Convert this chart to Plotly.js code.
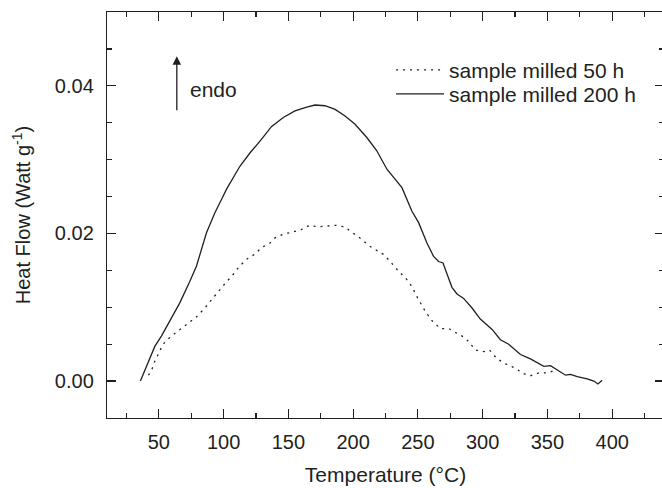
<!DOCTYPE html>
<html>
<head>
<meta charset="utf-8">
<script src="https://cdn.plot.ly/plotly-3.0.1.min.js"></script>
<style>
html, body { margin: 0; padding: 0; overflow: hidden; background: #fff; }
#chart { width: 664px; height: 488px; }
</style>
</head>
<body>
<div id="chart"></div>
<script>
// Sample milled 200 h (solid)
const temp200 = [35.8, 39.1, 43, 46.9, 52, 57.2, 66.2, 73.9, 79.1, 86.8, 93.3, 98.4, 102.3, 112.6, 120.3, 128.1, 137.1, 146.1, 155.1, 164.2, 170.6, 178.3, 186.1, 193.8, 201.5, 210.6, 218.3, 226.1, 232.5, 237.7, 245.4, 250.5, 257, 262.1, 266, 269.4, 272.5, 276.3, 280.2, 285.3, 291.8, 298.2, 307.3, 313.7, 320.1, 329.2, 336.9, 347.2, 352.4, 357.5, 364, 367.8, 373, 380.7, 385.9, 389, 392.3];
const heat200 = [0, 0.00135, 0.0032, 0.0047, 0.0061, 0.0077, 0.0106, 0.0135, 0.0156, 0.0201, 0.0228, 0.0246, 0.026, 0.0291, 0.0309, 0.0325, 0.0345, 0.0357, 0.0366, 0.0371, 0.0374, 0.0373, 0.0368, 0.0359, 0.0348, 0.033, 0.0312, 0.0287, 0.0273, 0.0262, 0.023, 0.0215, 0.0187, 0.0169, 0.0162, 0.016, 0.0145, 0.0127, 0.0118, 0.0112, 0.0099, 0.0084, 0.007, 0.0056, 0.005, 0.0036, 0.003, 0.002, 0.0021, 0.0015, 0.0008, 0.0009, 0.0006, 0.0003, 0, -0.0004, 0.0001];

// Sample milled 50 h (dotted)
const temp50 = [42, 44.3, 46.9, 50, 53.3, 59, 65.7, 72.6, 79.1, 85, 90.7, 95.8, 101.5, 106.7, 112, 117.8, 124.2, 129.4, 135.8, 139.7, 146.1, 153.1, 159.8, 166.2, 173.2, 179.7, 186.9, 193.3, 200.2, 206.7, 212.6, 218, 224, 229.6, 235, 240.8, 245.4, 248.7, 252.3, 256.2, 261.3, 267.5, 274, 280, 286, 290, 294.3, 300.8, 305.3, 311.3, 318.2, 324.6, 331.7, 336.6, 343.3, 350, 356.2];
const heat50 = [0.0008, 0.0014, 0.0027, 0.0038, 0.005, 0.006, 0.0069, 0.0078, 0.0087, 0.0098, 0.011, 0.0122, 0.0133, 0.0143, 0.0155, 0.0165, 0.0172, 0.0181, 0.0187, 0.0194, 0.0199, 0.0202, 0.0205, 0.0211, 0.0209, 0.021, 0.0211, 0.0209, 0.02, 0.0192, 0.0183, 0.0177, 0.0171, 0.016, 0.0149, 0.0139, 0.0128, 0.0116, 0.0104, 0.0093, 0.0081, 0.0071, 0.0071, 0.0065, 0.0059, 0.0052, 0.0042, 0.004, 0.0042, 0.003, 0.0023, 0.0018, 0.001, 0.0007, 0.0011, 0.0011, 0.0015];

const seriesNames = ['sample milled 50 h', 'sample milled 200 h'];
const xTickVals = [50, 100, 150, 200, 250, 300, 350, 400];
const yTickVals = [0, 0.02, 0.04];
const yTickText = ['0.00', '0.02', '0.04'];

const ink = '#231f20';
const fontFam = '"Liberation Sans", Arial, Helvetica, sans-serif';

const traces = [
  {
    x: temp50, y: heat50, name: seriesNames[0], type: 'scatter', mode: 'lines',
    line: { color: ink, width: 1.3, dash: '2px,5px' }, legend: 'legend'
  },
  {
    x: temp200, y: heat200, name: seriesNames[1], type: 'scatter', mode: 'lines',
    line: { color: ink, width: 1.3 }, legend: 'legend2'
  }
];

const axisCommon = {
  showline: true, linecolor: ink, linewidth: 1.2, mirror: 'allticks',
  ticks: 'inside', ticklen: 9, tickwidth: 1.2, tickcolor: ink,
  showgrid: false, zeroline: false,
  tickfont: { family: fontFam, size: 20, color: ink }
};

const legendCommon = {
  xanchor: 'left', yanchor: 'top',
  bgcolor: 'rgba(0,0,0,0)', borderwidth: 0,
  font: { family: fontFam, size: 21, color: ink },
  itemwidth: 48
};

const layout = {
  width: 664, height: 488,
  margin: { l: 107, r: 0, t: 12, b: 70 },
  paper_bgcolor: '#fff', plot_bgcolor: '#fff',
  font: { family: fontFam, color: ink },
  showlegend: true,
  legend: Object.assign({}, legendCommon, { x: 0.51, y: 0.907 }),
  legend2: Object.assign({}, legendCommon, { x: 0.51, y: 0.848 }),
  xaxis: Object.assign({}, axisCommon, {
    range: [10, 440],
    tickmode: 'array', tickvals: xTickVals,
    ticklabelstandoff: 6,
    minor: { ticks: 'inside', ticklen: 5, tickwidth: 1.2, tickcolor: ink, dtick: 25, tick0: 0 },
    title: { text: 'Temperature (°C)', font: { family: fontFam, size: 21, color: ink }, standoff: 15 }
  }),
  yaxis: Object.assign({}, axisCommon, {
    range: [-0.005, 0.05],
    tickmode: 'array', tickvals: yTickVals, ticktext: yTickText,
    ticklabelstandoff: 8,
    minor: { ticks: 'inside', ticklen: 5, tickwidth: 1.2, tickcolor: ink, dtick: 0.005, tick0: 0 },
    title: { text: 'Heat Flow (Watt g<sup>-1</sup>)', font: { family: fontFam, size: 20, color: ink }, standoff: 18 }
  }),
  annotations: [
    {
      x: 63.9, y: 0.044, xref: 'x', yref: 'y',
      ax: 63.9, ay: 0.0365, axref: 'x', ayref: 'y',
      showarrow: true, arrowhead: 2, arrowsize: 1.3, arrowwidth: 1.3, arrowcolor: ink, text: ''
    },
    {
      x: 72.4, y: 0.0395, xref: 'x', yref: 'y', xanchor: 'left', yanchor: 'middle',
      showarrow: false, text: 'endo', font: { family: fontFam, size: 21, color: ink }
    }
  ]
};

Plotly.newPlot('chart', traces, layout, { staticPlot: true, displayModeBar: false });
</script>
</body>
</html>
